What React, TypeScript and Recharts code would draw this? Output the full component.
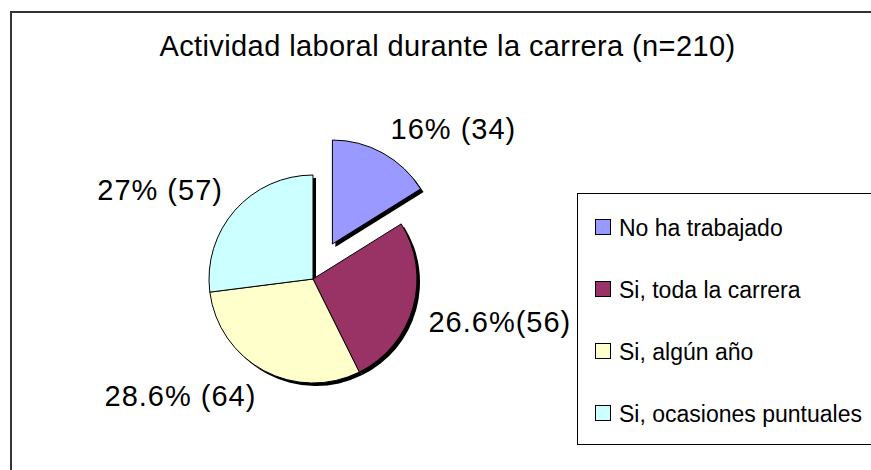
import React from "react";
import { PieChart, Pie, Cell, Legend } from "recharts";

const categories = [
  "No ha trabajado",
  "Si, toda la carrera",
  "Si, algún año",
  "Si, ocasiones puntuales",
];
const values = [34, 56, 64, 57];
const valueLabels = ["16% (34)", "26.6%(56)", "28.6% (64)", "27% (57)"];
const colors = ["#9999FF", "#993366", "#FFFFCC", "#CCFFFF"];
const title = "Actividad laboral durante la carrera (n=210)";

const data = categories.map((name, i) => ({ name, value: values[i] }));

const FONT = "'Liberation Sans', Arial, Helvetica, sans-serif";
const W = 871;
const H = 470;
const CX = 313;
const CY = 279;
const R = 104;
const START = 90;
const END = -270;
const EXPLODE = 40;
const SHADOW = 3;
const LABEL_SIZE = 29;

const total = values.reduce((a, b) => a + b, 0);
const explodedMid = START - ((values[0] / total) * 360) / 2;
const exDx = EXPLODE * Math.cos((explodedMid * Math.PI) / 180);
const exDy = -EXPLODE * Math.sin((explodedMid * Math.PI) / 180);

const makeLabel = (show: (i: number) => boolean) => (props: any) => {
  const { cx, cy, midAngle, outerRadius, index } = props;
  if (!show(index)) return null;
  const a = (midAngle * Math.PI) / 180;
  const r = outerRadius + 16;
  const x = cx + r * Math.cos(a);
  const y = cy - r * Math.sin(a);
  const anchor = Math.cos(a) >= 0 ? "start" : "end";
  const baseY = Math.sin(a) >= 0 ? y : y + 0.716 * LABEL_SIZE;
  return (
    <text
      key={`lbl-${index}`}
      x={x}
      y={baseY}
      textAnchor={anchor}
      fontSize={LABEL_SIZE}
      fontFamily={FONT}
      letterSpacing={1}
      fill="#000"
    >
      {valueLabels[index]}
    </text>
  );
};

const LegendBox = () => (
  <div
    style={{
      boxSizing: "border-box",
      width: 310,
      height: 252,
      border: "1px solid #000",
      background: "#fff",
      paddingTop: 2,
      fontFamily: FONT,
      fontSize: 23,
      color: "#000",
    }}
  >
    {categories.map((c, i) => (
      <div
        key={c}
        style={{
          height: 62,
          display: "flex",
          alignItems: "center",
          paddingLeft: 17,
        }}
      >
        <div
          style={{
            boxSizing: "border-box",
            width: 16,
            height: 16,
            border: "1px solid #000",
            background: colors[i],
          }}
        />
        <span
          style={{
            marginLeft: 8,
            lineHeight: "23px",
            marginTop: 2,
            whiteSpace: "nowrap",
          }}
        >
          {c}
        </span>
      </div>
    ))}
  </div>
);

export default function App() {
  return (
    <div
      style={{
        position: "absolute",
        left: 0,
        top: 0,
        width: W,
        height: H,
        overflow: "hidden",
        background: "#fff",
      }}
    >
      <div
        style={{
          position: "absolute",
          left: 10,
          top: 11,
          width: 900,
          height: 500,
          border: "2px solid #333",
          boxSizing: "border-box",
        }}
      />
      <div
        style={{
          position: "absolute",
          left: 0,
          top: 32,
          width: 895,
          textAlign: "center",
          fontFamily: FONT,
          fontSize: 29,
          lineHeight: "29px",
          letterSpacing: 0.4,
          color: "#000",
          whiteSpace: "nowrap",
        }}
      >
        {title}
      </div>
      <div style={{ position: "absolute", left: 0, top: 0 }}>
        <PieChart
          width={W}
          height={H}
          margin={{ top: 0, right: 0, bottom: 0, left: 0 }}
        >
          {/* shadows */}
          <Pie
            data={data}
            dataKey="value"
            nameKey="name"
            cx={CX + SHADOW}
            cy={CY + SHADOW}
            outerRadius={R}
            startAngle={START}
            endAngle={END}
            isAnimationActive={false}
            legendType="none"
            label={false}
            labelLine={false}
          >
            {data.map((d, i) => (
              <Cell
                key={`s-${i}`}
                fill={i === 0 ? "none" : "#000"}
                stroke="none"
              />
            ))}
          </Pie>
          <Pie
            data={data}
            dataKey="value"
            nameKey="name"
            cx={CX + exDx + SHADOW}
            cy={CY + exDy + SHADOW}
            outerRadius={R}
            startAngle={START}
            endAngle={END}
            isAnimationActive={false}
            legendType="none"
            label={false}
            labelLine={false}
          >
            {data.map((d, i) => (
              <Cell
                key={`se-${i}`}
                fill={i === 0 ? "#000" : "none"}
                stroke="none"
              />
            ))}
          </Pie>
          {/* main pie */}
          <Pie
            data={data}
            dataKey="value"
            nameKey="name"
            cx={CX}
            cy={CY}
            outerRadius={R}
            startAngle={START}
            endAngle={END}
            isAnimationActive={false}
            label={makeLabel((i) => i !== 0)}
            labelLine={false}
          >
            {data.map((d, i) => (
              <Cell
                key={`m-${i}`}
                fill={i === 0 ? "none" : colors[i]}
                stroke={i === 0 ? "none" : "#000"}
                strokeWidth={1}
              />
            ))}
          </Pie>
          {/* exploded slice */}
          <Pie
            data={data}
            dataKey="value"
            nameKey="name"
            cx={CX + exDx}
            cy={CY + exDy}
            outerRadius={R}
            startAngle={START}
            endAngle={END}
            isAnimationActive={false}
            legendType="none"
            label={makeLabel((i) => i === 0)}
            labelLine={false}
          >
            {data.map((d, i) => (
              <Cell
                key={`e-${i}`}
                fill={i === 0 ? colors[0] : "none"}
                stroke={i === 0 ? "#000" : "none"}
                strokeWidth={1}
              />
            ))}
          </Pie>
          <Legend
            layout="vertical"
            align="right"
            verticalAlign="middle"
            content={() => <LegendBox />}
            wrapperStyle={{
              left: 577,
              top: 193,
              right: "auto",
              bottom: "auto",
              width: 310,
              height: 252,
            }}
          />
        </PieChart>
      </div>
    </div>
  );
}
